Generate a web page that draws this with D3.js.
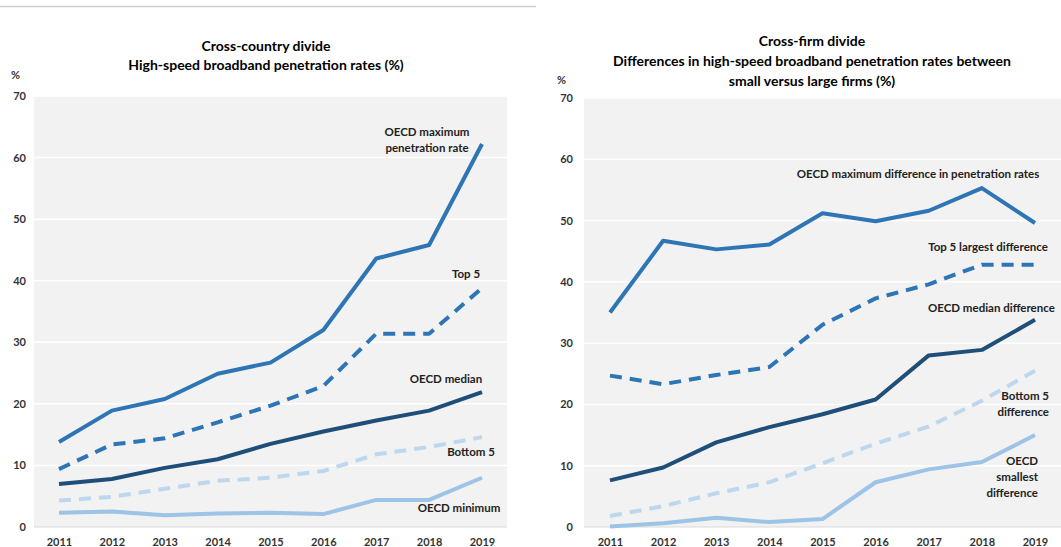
<!DOCTYPE html>
<html><head><meta charset="utf-8">
<script src="https://cdn.jsdelivr.net/npm/d3@7"></script>
<style>
body{margin:0;background:#fff;}
svg text{font-family:Lato,"Open Sans",sans-serif;}
</style></head><body>
<svg id="c" width="1061" height="547"></svg>
<script>
const years = ["2011","2012","2013","2014","2015","2016","2017","2018","2019"];
const yTicks = [0,10,20,30,40,50,60,70];

// Left chart: cross-country divide
const leftMax    = [13.8,18.9,20.8,24.9,26.7,32.0,43.6,45.8,62.2];
const leftTop5   = [9.4,13.4,14.4,17.0,19.7,22.9,31.4,31.4,38.8];
const leftMedian = [7.0,7.8,9.6,11.0,13.5,15.5,17.3,18.9,21.9];
const leftBottom5= [4.3,4.9,6.2,7.5,8.0,9.1,11.8,13.0,14.6];
const leftMin    = [2.3,2.5,1.9,2.2,2.3,2.1,4.4,4.4,8.0];

// Right chart: cross-firm divide
const rightMax     = [35.0,46.7,45.3,46.1,51.2,49.9,51.6,55.3,49.6];
const rightTop5    = [24.7,23.3,24.8,26.1,33.0,37.3,39.6,42.8,42.8];
const rightMedian  = [7.6,9.7,13.8,16.3,18.4,20.8,28.0,28.9,33.8];
const rightBottom5 = [1.8,3.4,5.5,7.3,10.4,13.6,16.4,20.6,25.5];
const rightSmallest= [0.1,0.6,1.5,0.8,1.3,7.3,9.4,10.6,15.0];

const leftTitle = ["Cross-country divide","High-speed broadband penetration rates (%)"];
const rightTitle = ["Cross-firm divide","Differences in high-speed broadband penetration rates between","small versus large firms (%)"];

const C = {max:"#2e75b6", top:"#2e75b6", med:"#1f4e79", bot:"#bdd7ee", min:"#9dc3e6"};

const svg = d3.select("#c");
svg.append("line").attr("x1",0).attr("x2",536).attr("y1",6.5).attr("y2",6.5)
  .attr("stroke","#d0d0d0").attr("stroke-width",1.5);

function chart(cfg){
  const x = d3.scalePoint().domain(years).range([cfg.x0+cfg.pad, cfg.x1-cfg.pad]);
  const y = d3.scaleLinear().domain([0,70]).range([cfg.yb, cfg.yt]);
  const g = svg.append("g");
  g.append("rect").attr("x",cfg.x0).attr("y",cfg.yt).attr("width",cfg.x1-cfg.x0).attr("height",cfg.yb-cfg.yt).attr("fill","#f2f2f2");
  g.selectAll(".grid").data(yTicks.filter(d=>d>0)).join("line")
    .attr("x1",cfg.x0).attr("x2",cfg.x1).attr("y1",d=>y(d)).attr("y2",d=>y(d))
    .attr("stroke","#ffffff").attr("stroke-width",1.5);
  g.append("line").attr("x1",cfg.x0).attr("x2",cfg.x1).attr("y1",y(0)).attr("y2",y(0))
    .attr("stroke","#d9d9d9").attr("stroke-width",1.2);
  const ya = g.append("g").attr("transform",`translate(${cfg.tx},0)`)
    .call(d3.axisLeft(y).tickValues(yTicks).tickSize(0).tickPadding(0));
  ya.select(".domain").remove();
  ya.selectAll("text").attr("font-size",11).attr("font-weight","bold").attr("fill","#333");
  const xa = g.append("g").attr("transform",`translate(0,${cfg.yb})`)
    .call(d3.axisBottom(x).tickSize(0).tickPadding(11));
  xa.select(".domain").remove();
  xa.selectAll("text").attr("font-size",11).attr("font-weight","bold").attr("fill","#333");
  g.append("text").attr("x",cfg.pctX).attr("y",cfg.pctY).text("%")
    .attr("font-size",11).attr("font-weight","bold").attr("fill","#333");
  cfg.title.forEach((t,i)=>{
    g.append("text").attr("x",cfg.tcx).attr("y",cfg.ty+i*cfg.tdy).attr("text-anchor","middle")
      .attr("font-size",14).attr("font-weight","bold").attr("fill","#000").text(t);
  });
  const line = d3.line().x((d,i)=>x(years[i])).y(d=>y(d));
  cfg.series.forEach(s=>{
    g.append("path").attr("d",line(s.v)).attr("fill","none").attr("stroke",s.c)
      .attr("stroke-width",4).attr("stroke-linejoin","round")
      .attr("stroke-dasharray",s.dash?"12,8":null);
  });
  cfg.labels.forEach(l=>{
    l.t.forEach((t,i)=>{
      g.append("text").attr("x",l.x).attr("y",l.y+i*16).attr("text-anchor",l.a||"middle")
        .attr("dominant-baseline","middle")
        .attr("font-size",11.5).attr("font-weight","bold").attr("fill","#222").text(t);
    });
  });
}

chart({x0:34,x1:507,pad:25,yt:96,yb:527,tx:26,pctX:11,pctY:79,tcx:266,ty:51,tdy:18.5,title:leftTitle,
  series:[{v:leftMin,c:C.min},{v:leftBottom5,c:C.bot,dash:true},{v:leftMedian,c:C.med},{v:leftTop5,c:C.top,dash:true},{v:leftMax,c:C.max}],
  labels:[{t:["OECD maximum","penetration rate"],x:427,y:133},{t:["Top 5"],x:466,y:275},
    {t:["OECD median"],x:446,y:380},{t:["Bottom 5"],x:471,y:453},{t:["OECD minimum"],x:459,y:509}]});

chart({x0:584,x1:1061,pad:26,yt:98,yb:527,tx:573,pctX:557,pctY:84,tcx:812,ty:46,tdy:20,title:rightTitle,
  series:[{v:rightSmallest,c:C.min},{v:rightBottom5,c:C.bot,dash:true},{v:rightMedian,c:C.med},{v:rightTop5,c:C.top,dash:true},{v:rightMax,c:C.max}],
  labels:[{t:["OECD maximum difference in penetration rates"],x:918,y:175},{t:["Top 5 largest difference"],x:988,y:248},
    {t:["OECD median difference"],x:928,y:309,a:"start"},{t:["Bottom 5","difference"],x:1049,y:397,a:"end"},
    {t:["OECD","smallest","difference"],x:1038,y:462,a:"end"}]});
</script></body></html>
